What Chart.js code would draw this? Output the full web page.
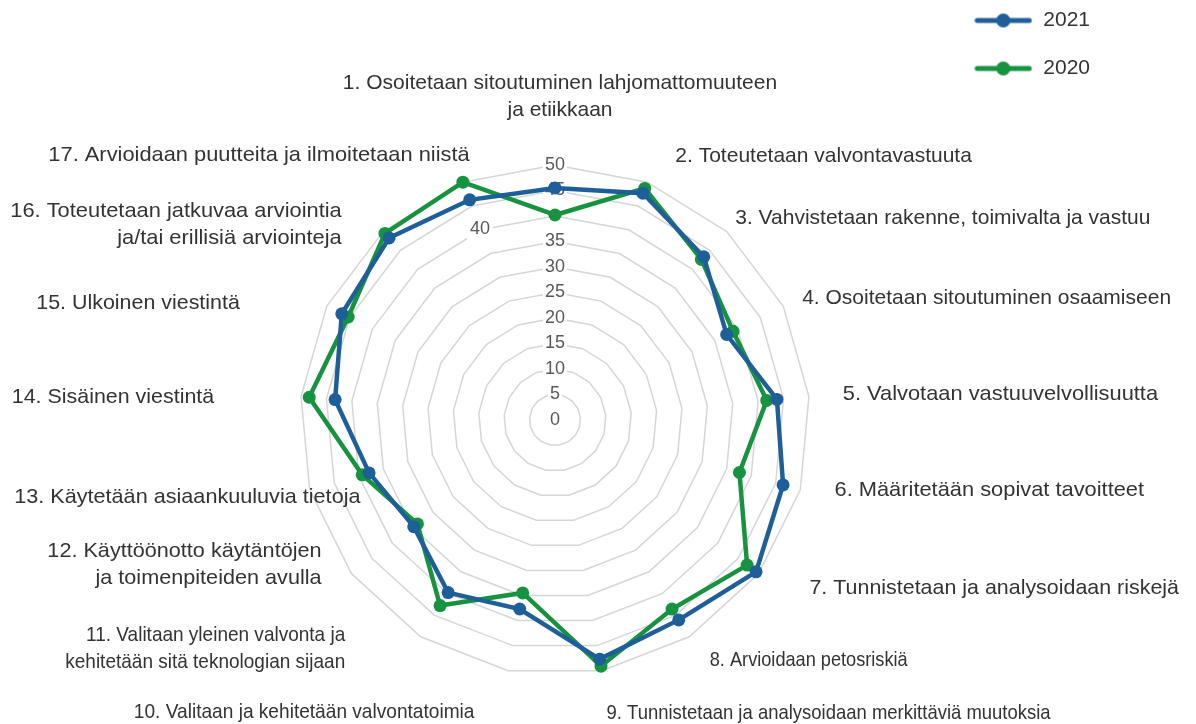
<!DOCTYPE html>
<html>
<head>
<meta charset="utf-8">
<script src="https://cdn.jsdelivr.net/npm/chart.js@4.4.1/dist/chart.umd.min.js"></script>
<style>
  html, body { margin: 0; padding: 0; background: #fff; }
  #wrap { width: 1196px; height: 724px; position: relative; }
</style>
</head>
<body>
<div id="wrap"><canvas id="myChart"></canvas></div>
<script>
// axis labels (multi-line where the original wraps)
const categories = [
  ['1. Osoitetaan sitoutuminen lahjomattomuuteen', 'ja etiikkaan'],
  '2. Toteutetaan valvontavastuuta',
  '3. Vahvistetaan rakenne, toimivalta ja vastuu',
  '4. Osoitetaan sitoutuminen osaamiseen',
  '5. Valvotaan vastuuvelvollisuutta',
  '6. Määritetään sopivat tavoitteet',
  '7. Tunnistetaan ja analysoidaan riskejä',
  '8. Arvioidaan petosriskiä',
  '9. Tunnistetaan ja analysoidaan merkittäviä muutoksia',
  '10. Valitaan ja kehitetään valvontatoimia',
  ['11. Valitaan yleinen valvonta ja', 'kehitetään sitä teknologian sijaan'],
  ['12. Käyttöönotto käytäntöjen', 'ja toimenpiteiden avulla'],
  '13. Käytetään asiaankuuluvia tietoja',
  '14. Sisäinen viestintä',
  '15. Ulkoinen viestintä',
  ['16. Toteutetaan jatkuvaa arviointia', 'ja/tai erillisiä arviointeja'],
  '17. Arvioidaan puutteita ja ilmoitetaan niistä'
];

const seriesNames = ['2021', '2020'];
const values2021 = [45.5, 47.7, 43.3, 37.6, 43.7, 46.5, 49.4, 46.1, 47.7, 37.7, 39.8, 34.7, 37.9, 43.3, 46.7, 48.3, 46.3];
const values2020 = [40.2, 48.7, 42.6, 39.0, 41.7, 37.6, 47.2, 43.6, 49.1, 34.5, 42.8, 33.8, 39.3, 48.4, 45.3, 49.5, 50.0];

const scaleMin = 0;
const scaleMax = 50;
const scaleStep = 5;

// styling / layout
const BLUE = '#1f5f99';
const GREEN = '#17923f';
const FONT = '"Liberation Sans", Arial, sans-serif';
const TEXT = '#333333';

// where the label block sits relative to the axis end (align, dx, dy)
const labelAlign = ['center', 'left', 'left', 'left', 'left', 'left', 'left', 'left', 'left',
  'right', 'right', 'right', 'right', 'right', 'right', 'right', 'right'];
const labelNudge = [
  [5, -48], [21, -7], [-5, 1], [1, 1], [14, 0], [15, -5], [35, 2], [10, 6], [1, 23],
  [-30, 22], [-65, -5], [-14, -21], [70, 2], [-67, 3], [-69, 6], [-28, 8], [14, -8]
];
// the bottom labels are squeezed sideways in the original
const labelSqueeze = [1, 1, 1, 1, 1.04, 1.04, 1.02, 0.865, 0.88, 0.91, 0.905, 1.03, 1.03, 1.02, 1.02, 1.04, 1.04];

function legendIcon(color)
{
  const c = document.createElement('canvas');
  c.width = 58;
  c.height = 16;
  const g = c.getContext('2d');
  g.strokeStyle = color;
  g.lineWidth = 5;
  g.lineCap = 'round';
  g.beginPath();
  g.moveTo(3, 8);
  g.lineTo(55, 8);
  g.stroke();
  g.fillStyle = color;
  g.beginPath();
  g.arc(29, 8, 7, 0, Math.PI * 2);
  g.fill();
  return c;
}
const legendIcons = [legendIcon(BLUE), legendIcon(GREEN)];

// axis texts and the two displaced tick labels ("0" at the centre, "40" moved aside)
const labelPlugin = {
  id: 'axisText',
  beforeDatasetsDraw(chart) {
    const scale = chart.scales.r;
    const ctx = chart.ctx;
    ctx.save();
    ctx.font = '18px ' + FONT;
    ctx.textAlign = 'center';
    ctx.textBaseline = 'middle';
    // "0"
    ctx.fillStyle = '#595959';
    ctx.fillText('0', scale.xCenter, scale.yCenter);
    // "40" sits off the axis in the original
    const d = scale.getDistanceFromCenterForValue(40);
    const x = scale.xCenter - 75, y = scale.yCenter - d + 13;
    const w = ctx.measureText('40').width;
    ctx.fillStyle = '#ffffff';
    ctx.fillRect(x - w / 2 - 3, y - 11, w + 6, 22);
    ctx.fillStyle = '#595959';
    ctx.fillText('40', x, y);
    ctx.restore();
  },
  afterDraw(chart) {
    const scale = chart.scales.r;
    const ctx = chart.ctx;
    const lineH = 27;
    for (let i = 0; i < categories.length; ++i)
    {
      const p = scale.getPointPosition(i, scale.drawingArea + 20);
      const lines = Array.isArray(categories[i]) ? categories[i] : [categories[i]];
      const x = p.x + labelNudge[i][0];
      const y = p.y + labelNudge[i][1] - (lines.length - 1) * lineH / 2;
      ctx.save();
      ctx.font = '21px ' + FONT;
      ctx.fillStyle = TEXT;
      ctx.textBaseline = 'middle';
      ctx.textAlign = labelAlign[i];
      ctx.translate(x, y);
      ctx.scale(labelSqueeze[i], 1);
      lines.forEach((t, k) => ctx.fillText(t, 0, k * lineH));
      ctx.restore();
    }
  }
};

const ctx = document.getElementById('myChart');

const myChart = new Chart(ctx, {
  type: 'radar',
  data: {
    labels: categories,
    datasets: [{
      label: seriesNames[0],
      data: values2021,
      borderColor: BLUE,
      backgroundColor: BLUE,
      pointBackgroundColor: BLUE,
      pointBorderColor: BLUE,
      borderWidth: 4.5,
      pointRadius: 6.5,
      pointBorderWidth: 0,
      fill: false
    }, {
      label: seriesNames[1],
      data: values2020,
      borderColor: GREEN,
      backgroundColor: GREEN,
      pointBackgroundColor: GREEN,
      pointBorderColor: GREEN,
      borderWidth: 4.5,
      pointRadius: 6.5,
      pointBorderWidth: 0,
      fill: false
    }]
  },
  options: {
    responsive: true,
    maintainAspectRatio: false,
    animation: false,
    layout: {
      padding: { top: -17, right: 96 }
    },
    plugins: {
      tooltip: { enabled: false },
      legend: {
        position: 'right',
        align: 'start',
        labels: {
          usePointStyle: true,
          pointStyleWidth: 59,
          padding: 27,
          color: TEXT,
          font: { family: FONT, size: 21 },
          generateLabels: function (chart) {
            const items = Chart.defaults.plugins.legend.labels.generateLabels(chart);
            items.forEach(it => { it.pointStyle = legendIcons[it.datasetIndex]; });
            return items;
          }
        }
      }
    },
    scales: {
      r: {
        min: scaleMin,
        max: scaleMax,
        angleLines: { display: false },
        grid: { color: '#d6d6d6', lineWidth: 1.5 },
        pointLabels: { display: false },
        ticks: {
          stepSize: scaleStep,
          color: '#595959',
          font: { family: FONT, size: 18 },
          backdropColor: '#ffffff',
          backdropPadding: { x: 2, y: 0 },
          showLabelBackdrop: (c) => c.tick && c.tick.value !== 40,
          callback: (v) => (v === 40 ? '' : v)
        },
        afterFit: function (scale) {
          // fixed plot circle, as in the original
          scale.xCenter = 555;
          scale.yCenter = 420;
          scale.drawingArea = 255;
        }
      }
    }
  },
  plugins: [labelPlugin]
});
</script>
</body>
</html>
